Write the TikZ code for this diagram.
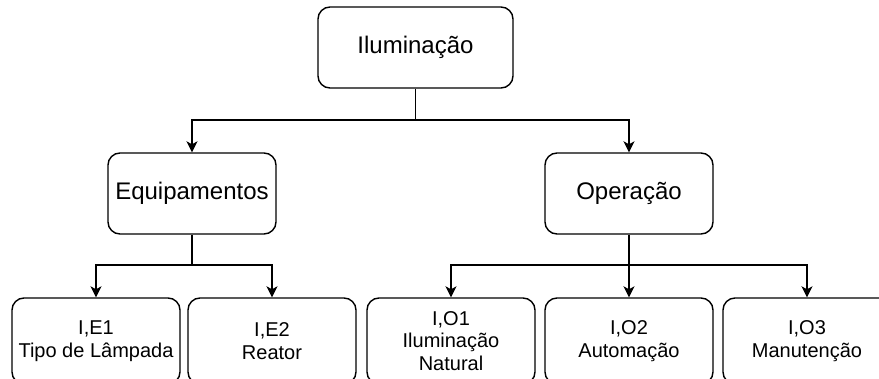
\documentclass[tikz,border=0pt]{standalone}
\usepackage{fontspec}
\setmainfont{Liberation Sans}
\usetikzlibrary{arrows.meta,positioning,calc}

\begin{document}
\begin{tikzpicture}[x=1pt, y=-1pt,
          box/.style={draw, line width=1.4pt, rounded corners=12pt, align=center,
                      minimum width=168pt, minimum height=81pt, inner sep=0pt},
          topbox/.style={box, minimum width=195pt, font=\fontsize{24}{28}\selectfont},
          midbox/.style={box, font=\fontsize{24}{28}\selectfont},
          leaf/.style={box, minimum height=86pt, font=\fontsize{20}{22.5}\selectfont,
                       execute at begin node={\baselineskip=22.5pt\lineskiplimit=-10pt}},
          link/.style={line width=1.4pt, -{Stealth[length=11pt, width=11pt, inset=3pt]}},
          stem/.style={line width=1.4pt}
        ]
          \useasboundingbox (0,0) rectangle (879,378);

          % Wurzel
          \node[topbox] (ilum) at (415.5,47.5) {Iluminação};

          % Gruppen
          \node[midbox] (equip) at (192,193.5) {Equipamentos};
          \node[midbox] (oper) at (629,193.5) {Operação};

          % Blätter
          \node[leaf] (ie1) at (96,341) {I,E1\\Tipo de Lâmpada};
          \node[leaf] (ie2) at (272,341) {I,E2\\Reator};
          \node[leaf] (io1) at (451,341) {I,O1\\Iluminação\\Natural};
          \node[leaf] (io2) at (629,341) {I,O2\\Automação};
          \node[leaf] (io3) at (807,341) {I,O3\\Manutenção};

          % Verzweigungen
          \coordinate (s0) at (415.5,120);
          \coordinate (s1) at (192,265);
          \coordinate (s2) at (629,265);

          \draw[stem] (ilum.south) -- (s0);
          \draw[link] (s0) -| (equip.north);
          \draw[link] (s0) -| (oper.north);

          \draw[stem] (equip.south) -- (s1);
          \draw[link] (s1) -| (ie1.north);
          \draw[link] (s1) -| (ie2.north);

          \draw[link] (oper.south) -- (io2.north);
          \draw[link] (s2) -| (io1.north);
          \draw[link] (s2) -| (io3.north);
        \end{tikzpicture}
\end{document}
